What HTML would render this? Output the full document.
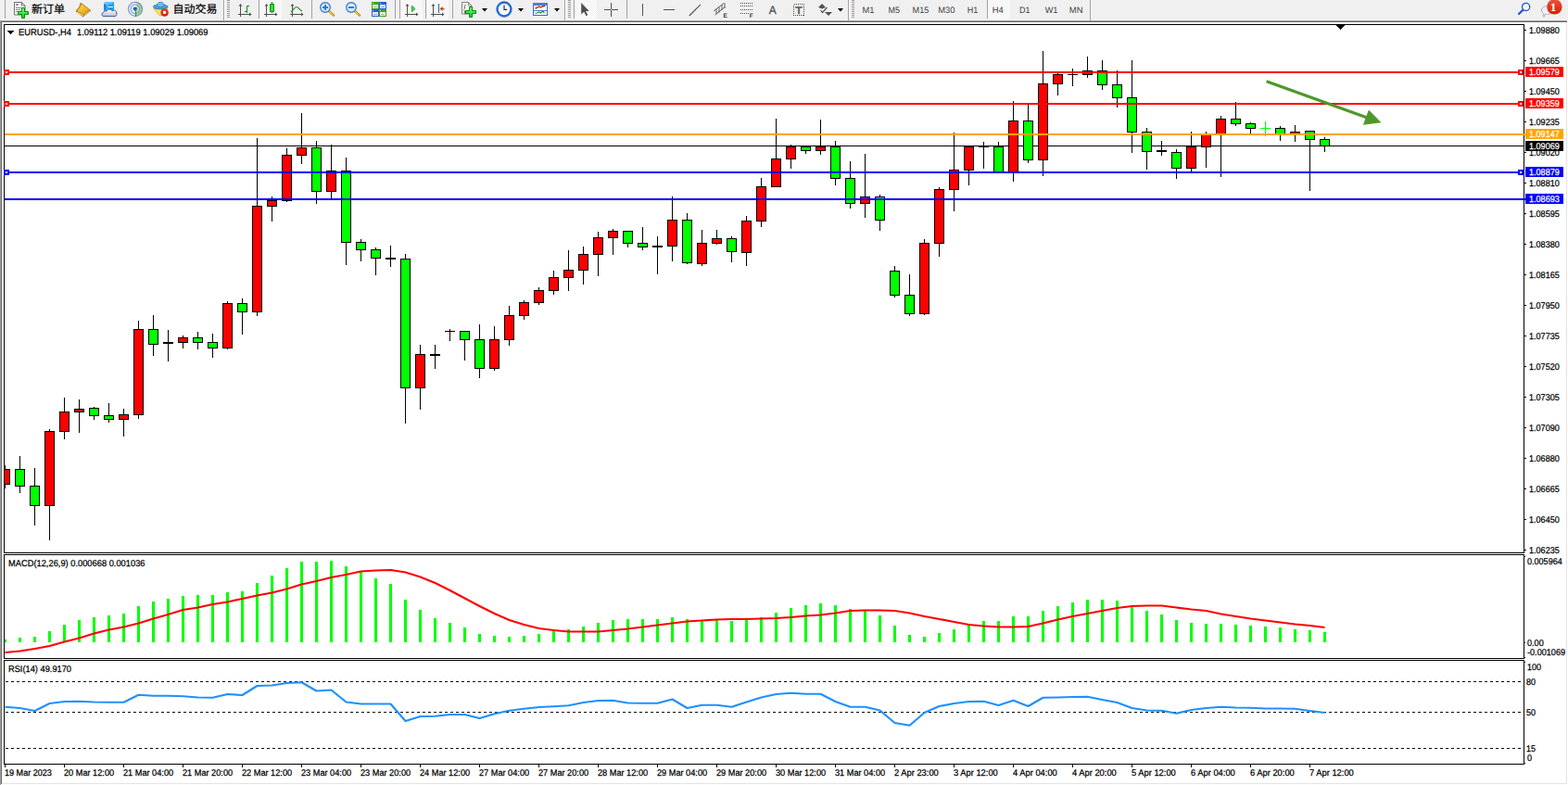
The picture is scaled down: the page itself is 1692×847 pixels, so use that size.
<!DOCTYPE html>
<html><head><meta charset="utf-8"><title>EURUSD H4</title>
<style>
html,body{margin:0;padding:0;background:#f0f0f0;overflow:hidden}
body{width:1692px;height:847px;font-family:"Liberation Sans",sans-serif}
svg{display:block;position:absolute;left:0;top:0}
svg text{font-family:"Liberation Sans",sans-serif;white-space:pre;text-rendering:geometricPrecision}
rect{shape-rendering:crispEdges}
</style></head><body>
<svg width="1692" height="847" viewBox="0 0 1692 847">
<rect x="0" y="0" width="1692" height="847" fill="#f0f0f0"/>
<rect x="0" y="21" width="1692" height="1" fill="#f6f6f6"/>
<rect x="0" y="22" width="1692" height="825" fill="#a0a0a0"/>
<rect x="1" y="23" width="1691" height="824" fill="#696969"/>
<rect x="2" y="24" width="1690" height="823" fill="#ffffff"/>
<rect x="1690" y="24" width="1" height="822" fill="#e3e3e3"/>
<rect x="2" y="845" width="1689" height="1" fill="#e3e3e3"/>
<rect x="1691" y="22" width="1" height="825" fill="#ffffff"/>
<rect x="0" y="846" width="1692" height="1" fill="#ffffff"/>
<rect x="0" y="22" width="1" height="825" fill="#a0a0a0"/>
<rect x="4" y="26" width="1641" height="1" fill="#000"/>
<rect x="4" y="596" width="1641" height="1" fill="#000"/>
<rect x="4" y="598" width="1641" height="1" fill="#000"/>
<rect x="4" y="710" width="1641" height="1" fill="#000"/>
<rect x="4" y="712" width="1641" height="1" fill="#000"/>
<rect x="4" y="824" width="1641" height="1" fill="#000"/>
<rect x="4" y="26" width="1" height="799" fill="#000"/>
<rect x="1644" y="26" width="1" height="799" fill="#000"/>
<rect x="4" y="597" width="1" height="1" fill="#fff"/>
<rect x="4" y="711" width="1" height="1" fill="#fff"/>
<rect x="1644" y="597" width="1" height="1" fill="#fff"/>
<rect x="1644" y="711" width="1" height="1" fill="#fff"/>
<clipPath id="cm"><rect x="5" y="27" width="1639" height="569"/></clipPath>
<g clip-path="url(#cm)">
<rect x="5" y="157" width="1639" height="1" fill="#000"/>
<rect x="5" y="502" width="1" height="25" fill="#000"/>
<rect x="0" y="506" width="11" height="17" fill="#000"/>
<rect x="1" y="507" width="9" height="15" fill="#ff0000"/>
<rect x="21" y="492" width="1" height="40" fill="#000"/>
<rect x="16" y="506" width="11" height="19" fill="#000"/>
<rect x="17" y="507" width="9" height="17" fill="#00ff00"/>
<rect x="37" y="505" width="1" height="62" fill="#000"/>
<rect x="32" y="524" width="11" height="22" fill="#000"/>
<rect x="33" y="525" width="9" height="20" fill="#00ff00"/>
<rect x="53" y="463" width="1" height="120" fill="#000"/>
<rect x="48" y="465" width="11" height="81" fill="#000"/>
<rect x="49" y="466" width="9" height="79" fill="#ff0000"/>
<rect x="69" y="429" width="1" height="45" fill="#000"/>
<rect x="64" y="444" width="11" height="22" fill="#000"/>
<rect x="65" y="445" width="9" height="20" fill="#ff0000"/>
<rect x="85" y="431" width="1" height="36" fill="#000"/>
<rect x="80" y="441" width="11" height="4" fill="#000"/>
<rect x="81" y="442" width="9" height="2" fill="#ff0000"/>
<rect x="101" y="439" width="1" height="14" fill="#000"/>
<rect x="96" y="440" width="11" height="9" fill="#000"/>
<rect x="97" y="441" width="9" height="7" fill="#00ff00"/>
<rect x="117" y="435" width="1" height="21" fill="#000"/>
<rect x="112" y="448" width="11" height="5" fill="#000"/>
<rect x="113" y="449" width="9" height="3" fill="#00ff00"/>
<rect x="133" y="441" width="1" height="30" fill="#000"/>
<rect x="128" y="447" width="11" height="6" fill="#000"/>
<rect x="129" y="448" width="9" height="4" fill="#ff0000"/>
<rect x="149" y="346" width="1" height="106" fill="#000"/>
<rect x="144" y="355" width="11" height="93" fill="#000"/>
<rect x="145" y="356" width="9" height="91" fill="#ff0000"/>
<rect x="165" y="340" width="1" height="44" fill="#000"/>
<rect x="160" y="355" width="11" height="17" fill="#000"/>
<rect x="161" y="356" width="9" height="15" fill="#00ff00"/>
<rect x="181" y="356" width="1" height="34" fill="#000"/>
<rect x="176" y="369" width="11" height="2" fill="#000"/>
<rect x="197" y="362" width="1" height="14" fill="#000"/>
<rect x="192" y="364" width="11" height="6" fill="#000"/>
<rect x="193" y="365" width="9" height="4" fill="#ff0000"/>
<rect x="213" y="358" width="1" height="19" fill="#000"/>
<rect x="208" y="364" width="11" height="6" fill="#000"/>
<rect x="209" y="365" width="9" height="4" fill="#00ff00"/>
<rect x="229" y="360" width="1" height="26" fill="#000"/>
<rect x="224" y="369" width="11" height="7" fill="#000"/>
<rect x="225" y="370" width="9" height="5" fill="#00ff00"/>
<rect x="245" y="325" width="1" height="52" fill="#000"/>
<rect x="240" y="327" width="11" height="49" fill="#000"/>
<rect x="241" y="328" width="9" height="47" fill="#ff0000"/>
<rect x="261" y="322" width="1" height="39" fill="#000"/>
<rect x="256" y="327" width="11" height="10" fill="#000"/>
<rect x="257" y="328" width="9" height="8" fill="#00ff00"/>
<rect x="277" y="149" width="1" height="192" fill="#000"/>
<rect x="272" y="222" width="11" height="115" fill="#000"/>
<rect x="273" y="223" width="9" height="113" fill="#ff0000"/>
<rect x="293" y="212" width="1" height="27" fill="#000"/>
<rect x="288" y="216" width="11" height="7" fill="#000"/>
<rect x="289" y="217" width="9" height="5" fill="#ff0000"/>
<rect x="309" y="160" width="1" height="58" fill="#000"/>
<rect x="304" y="167" width="11" height="50" fill="#000"/>
<rect x="305" y="168" width="9" height="48" fill="#ff0000"/>
<rect x="325" y="122" width="1" height="55" fill="#000"/>
<rect x="320" y="159" width="11" height="9" fill="#000"/>
<rect x="321" y="160" width="9" height="7" fill="#ff0000"/>
<rect x="341" y="152" width="1" height="68" fill="#000"/>
<rect x="336" y="159" width="11" height="48" fill="#000"/>
<rect x="337" y="160" width="9" height="46" fill="#00ff00"/>
<rect x="357" y="156" width="1" height="58" fill="#000"/>
<rect x="352" y="184" width="11" height="23" fill="#000"/>
<rect x="353" y="185" width="9" height="21" fill="#ff0000"/>
<rect x="373" y="170" width="1" height="116" fill="#000"/>
<rect x="368" y="184" width="11" height="78" fill="#000"/>
<rect x="369" y="185" width="9" height="76" fill="#00ff00"/>
<rect x="389" y="258" width="1" height="24" fill="#000"/>
<rect x="384" y="261" width="11" height="9" fill="#000"/>
<rect x="385" y="262" width="9" height="7" fill="#00ff00"/>
<rect x="405" y="267" width="1" height="30" fill="#000"/>
<rect x="400" y="269" width="11" height="10" fill="#000"/>
<rect x="401" y="270" width="9" height="8" fill="#00ff00"/>
<rect x="421" y="265" width="1" height="23" fill="#000"/>
<rect x="416" y="278" width="11" height="2" fill="#000"/>
<rect x="437" y="274" width="1" height="183" fill="#000"/>
<rect x="432" y="279" width="11" height="140" fill="#000"/>
<rect x="433" y="280" width="9" height="138" fill="#00ff00"/>
<rect x="453" y="372" width="1" height="70" fill="#000"/>
<rect x="448" y="382" width="11" height="37" fill="#000"/>
<rect x="449" y="383" width="9" height="35" fill="#ff0000"/>
<rect x="469" y="372" width="1" height="26" fill="#000"/>
<rect x="464" y="382" width="11" height="2" fill="#000"/>
<rect x="485" y="355" width="1" height="13" fill="#000"/>
<rect x="480" y="357" width="11" height="1" fill="#000"/>
<rect x="501" y="357" width="1" height="32" fill="#000"/>
<rect x="496" y="357" width="11" height="10" fill="#000"/>
<rect x="497" y="358" width="9" height="8" fill="#00ff00"/>
<rect x="517" y="350" width="1" height="58" fill="#000"/>
<rect x="512" y="366" width="11" height="32" fill="#000"/>
<rect x="513" y="367" width="9" height="30" fill="#00ff00"/>
<rect x="533" y="352" width="1" height="48" fill="#000"/>
<rect x="528" y="366" width="11" height="32" fill="#000"/>
<rect x="529" y="367" width="9" height="30" fill="#ff0000"/>
<rect x="549" y="330" width="1" height="43" fill="#000"/>
<rect x="544" y="340" width="11" height="27" fill="#000"/>
<rect x="545" y="341" width="9" height="25" fill="#ff0000"/>
<rect x="565" y="324" width="1" height="21" fill="#000"/>
<rect x="560" y="326" width="11" height="15" fill="#000"/>
<rect x="561" y="327" width="9" height="13" fill="#ff0000"/>
<rect x="581" y="310" width="1" height="19" fill="#000"/>
<rect x="576" y="313" width="11" height="14" fill="#000"/>
<rect x="577" y="314" width="9" height="12" fill="#ff0000"/>
<rect x="597" y="292" width="1" height="26" fill="#000"/>
<rect x="592" y="299" width="11" height="15" fill="#000"/>
<rect x="593" y="300" width="9" height="13" fill="#ff0000"/>
<rect x="613" y="270" width="1" height="44" fill="#000"/>
<rect x="608" y="291" width="11" height="9" fill="#000"/>
<rect x="609" y="292" width="9" height="7" fill="#ff0000"/>
<rect x="629" y="266" width="1" height="41" fill="#000"/>
<rect x="624" y="274" width="11" height="18" fill="#000"/>
<rect x="625" y="275" width="9" height="16" fill="#ff0000"/>
<rect x="645" y="250" width="1" height="48" fill="#000"/>
<rect x="640" y="256" width="11" height="19" fill="#000"/>
<rect x="641" y="257" width="9" height="17" fill="#ff0000"/>
<rect x="661" y="247" width="1" height="28" fill="#000"/>
<rect x="656" y="249" width="11" height="8" fill="#000"/>
<rect x="657" y="250" width="9" height="6" fill="#ff0000"/>
<rect x="677" y="249" width="1" height="18" fill="#000"/>
<rect x="672" y="249" width="11" height="14" fill="#000"/>
<rect x="673" y="250" width="9" height="12" fill="#00ff00"/>
<rect x="693" y="245" width="1" height="25" fill="#000"/>
<rect x="688" y="262" width="11" height="5" fill="#000"/>
<rect x="689" y="263" width="9" height="3" fill="#00ff00"/>
<rect x="709" y="255" width="1" height="41" fill="#000"/>
<rect x="704" y="265" width="11" height="2" fill="#000"/>
<rect x="725" y="212" width="1" height="70" fill="#000"/>
<rect x="720" y="237" width="11" height="29" fill="#000"/>
<rect x="721" y="238" width="9" height="27" fill="#ff0000"/>
<rect x="741" y="230" width="1" height="55" fill="#000"/>
<rect x="736" y="237" width="11" height="47" fill="#000"/>
<rect x="737" y="238" width="9" height="45" fill="#00ff00"/>
<rect x="757" y="248" width="1" height="39" fill="#000"/>
<rect x="752" y="262" width="11" height="23" fill="#000"/>
<rect x="753" y="263" width="9" height="21" fill="#ff0000"/>
<rect x="773" y="248" width="1" height="16" fill="#000"/>
<rect x="768" y="257" width="11" height="6" fill="#000"/>
<rect x="769" y="258" width="9" height="4" fill="#ff0000"/>
<rect x="789" y="255" width="1" height="28" fill="#000"/>
<rect x="784" y="257" width="11" height="15" fill="#000"/>
<rect x="785" y="258" width="9" height="13" fill="#00ff00"/>
<rect x="805" y="233" width="1" height="54" fill="#000"/>
<rect x="800" y="238" width="11" height="35" fill="#000"/>
<rect x="801" y="239" width="9" height="33" fill="#ff0000"/>
<rect x="821" y="192" width="1" height="53" fill="#000"/>
<rect x="816" y="201" width="11" height="38" fill="#000"/>
<rect x="817" y="202" width="9" height="36" fill="#ff0000"/>
<rect x="837" y="128" width="1" height="74" fill="#000"/>
<rect x="832" y="171" width="11" height="31" fill="#000"/>
<rect x="833" y="172" width="9" height="29" fill="#ff0000"/>
<rect x="853" y="156" width="1" height="26" fill="#000"/>
<rect x="848" y="158" width="11" height="14" fill="#000"/>
<rect x="849" y="159" width="9" height="12" fill="#ff0000"/>
<rect x="869" y="158" width="1" height="8" fill="#000"/>
<rect x="864" y="158" width="11" height="5" fill="#000"/>
<rect x="865" y="159" width="9" height="3" fill="#00ff00"/>
<rect x="885" y="129" width="1" height="38" fill="#000"/>
<rect x="880" y="158" width="11" height="5" fill="#000"/>
<rect x="881" y="159" width="9" height="3" fill="#ff0000"/>
<rect x="901" y="152" width="1" height="48" fill="#000"/>
<rect x="896" y="158" width="11" height="35" fill="#000"/>
<rect x="897" y="159" width="9" height="33" fill="#00ff00"/>
<rect x="917" y="174" width="1" height="51" fill="#000"/>
<rect x="912" y="192" width="11" height="28" fill="#000"/>
<rect x="913" y="193" width="9" height="26" fill="#00ff00"/>
<rect x="933" y="166" width="1" height="69" fill="#000"/>
<rect x="928" y="212" width="11" height="8" fill="#000"/>
<rect x="929" y="213" width="9" height="6" fill="#ff0000"/>
<rect x="949" y="210" width="1" height="39" fill="#000"/>
<rect x="944" y="212" width="11" height="26" fill="#000"/>
<rect x="945" y="213" width="9" height="24" fill="#00ff00"/>
<rect x="965" y="287" width="1" height="34" fill="#000"/>
<rect x="960" y="292" width="11" height="27" fill="#000"/>
<rect x="961" y="293" width="9" height="25" fill="#00ff00"/>
<rect x="981" y="296" width="1" height="45" fill="#000"/>
<rect x="976" y="318" width="11" height="21" fill="#000"/>
<rect x="977" y="319" width="9" height="19" fill="#00ff00"/>
<rect x="997" y="258" width="1" height="82" fill="#000"/>
<rect x="992" y="262" width="11" height="77" fill="#000"/>
<rect x="993" y="263" width="9" height="75" fill="#ff0000"/>
<rect x="1013" y="202" width="1" height="75" fill="#000"/>
<rect x="1008" y="204" width="11" height="59" fill="#000"/>
<rect x="1009" y="205" width="9" height="57" fill="#ff0000"/>
<rect x="1029" y="143" width="1" height="85" fill="#000"/>
<rect x="1024" y="183" width="11" height="22" fill="#000"/>
<rect x="1025" y="184" width="9" height="20" fill="#ff0000"/>
<rect x="1045" y="157" width="1" height="43" fill="#000"/>
<rect x="1040" y="158" width="11" height="26" fill="#000"/>
<rect x="1041" y="159" width="9" height="24" fill="#ff0000"/>
<rect x="1061" y="153" width="1" height="29" fill="#000"/>
<rect x="1056" y="158" width="11" height="1" fill="#000"/>
<rect x="1077" y="153" width="1" height="34" fill="#000"/>
<rect x="1072" y="158" width="11" height="29" fill="#000"/>
<rect x="1073" y="159" width="9" height="27" fill="#00ff00"/>
<rect x="1093" y="109" width="1" height="87" fill="#000"/>
<rect x="1088" y="130" width="11" height="57" fill="#000"/>
<rect x="1089" y="131" width="9" height="55" fill="#ff0000"/>
<rect x="1109" y="113" width="1" height="63" fill="#000"/>
<rect x="1104" y="130" width="11" height="43" fill="#000"/>
<rect x="1105" y="131" width="9" height="41" fill="#00ff00"/>
<rect x="1125" y="55" width="1" height="135" fill="#000"/>
<rect x="1120" y="90" width="11" height="83" fill="#000"/>
<rect x="1121" y="91" width="9" height="81" fill="#ff0000"/>
<rect x="1141" y="78" width="1" height="25" fill="#000"/>
<rect x="1136" y="80" width="11" height="11" fill="#000"/>
<rect x="1137" y="81" width="9" height="9" fill="#ff0000"/>
<rect x="1157" y="74" width="1" height="19" fill="#000"/>
<rect x="1152" y="80" width="11" height="1" fill="#000"/>
<rect x="1173" y="61" width="1" height="23" fill="#000"/>
<rect x="1168" y="76" width="11" height="5" fill="#000"/>
<rect x="1169" y="77" width="9" height="3" fill="#ff0000"/>
<rect x="1189" y="65" width="1" height="32" fill="#000"/>
<rect x="1184" y="76" width="11" height="16" fill="#000"/>
<rect x="1185" y="77" width="9" height="14" fill="#00ff00"/>
<rect x="1205" y="76" width="1" height="40" fill="#000"/>
<rect x="1200" y="91" width="11" height="15" fill="#000"/>
<rect x="1201" y="92" width="9" height="13" fill="#00ff00"/>
<rect x="1221" y="65" width="1" height="100" fill="#000"/>
<rect x="1216" y="105" width="11" height="38" fill="#000"/>
<rect x="1217" y="106" width="9" height="36" fill="#00ff00"/>
<rect x="1237" y="138" width="1" height="45" fill="#000"/>
<rect x="1232" y="142" width="11" height="22" fill="#000"/>
<rect x="1233" y="143" width="9" height="20" fill="#00ff00"/>
<rect x="1253" y="152" width="1" height="16" fill="#000"/>
<rect x="1248" y="162" width="11" height="2" fill="#000"/>
<rect x="1269" y="161" width="1" height="32" fill="#000"/>
<rect x="1264" y="164" width="11" height="18" fill="#000"/>
<rect x="1265" y="165" width="9" height="16" fill="#00ff00"/>
<rect x="1285" y="142" width="1" height="43" fill="#000"/>
<rect x="1280" y="158" width="11" height="24" fill="#000"/>
<rect x="1281" y="159" width="9" height="22" fill="#ff0000"/>
<rect x="1301" y="142" width="1" height="39" fill="#000"/>
<rect x="1296" y="145" width="11" height="14" fill="#000"/>
<rect x="1297" y="146" width="9" height="12" fill="#ff0000"/>
<rect x="1317" y="125" width="1" height="66" fill="#000"/>
<rect x="1312" y="128" width="11" height="17" fill="#000"/>
<rect x="1313" y="129" width="9" height="15" fill="#ff0000"/>
<rect x="1333" y="110" width="1" height="26" fill="#000"/>
<rect x="1328" y="128" width="11" height="6" fill="#000"/>
<rect x="1329" y="129" width="9" height="4" fill="#00ff00"/>
<rect x="1349" y="132" width="1" height="12" fill="#000"/>
<rect x="1344" y="133" width="11" height="6" fill="#000"/>
<rect x="1345" y="134" width="9" height="4" fill="#00ff00"/>
<rect x="1365" y="131" width="1" height="16" fill="#00ff00"/>
<rect x="1360" y="138" width="11" height="1" fill="#00ff00"/>
<rect x="1381" y="136" width="1" height="16" fill="#000"/>
<rect x="1376" y="138" width="11" height="7" fill="#000"/>
<rect x="1377" y="139" width="9" height="5" fill="#00ff00"/>
<rect x="1397" y="135" width="1" height="18" fill="#000"/>
<rect x="1392" y="142" width="11" height="3" fill="#000"/>
<rect x="1393" y="143" width="9" height="1" fill="#ff0000"/>
<rect x="1413" y="141" width="1" height="65" fill="#000"/>
<rect x="1408" y="141" width="11" height="10" fill="#000"/>
<rect x="1409" y="142" width="9" height="8" fill="#00ff00"/>
<rect x="1429" y="148" width="1" height="16" fill="#000"/>
<rect x="1424" y="150" width="11" height="8" fill="#000"/>
<rect x="1425" y="151" width="9" height="6" fill="#00ff00"/>
</g>
<rect x="5" y="77" width="1639" height="2" fill="#ff0000"/>
<rect x="4" y="75" width="6" height="6" fill="#ff0000"/>
<rect x="6" y="77" width="2" height="2" fill="#fff"/>
<rect x="1638" y="75" width="6" height="6" fill="#ff0000"/>
<rect x="1640" y="77" width="2" height="2" fill="#fff"/>
<rect x="5" y="111" width="1639" height="2" fill="#ff0000"/>
<rect x="4" y="109" width="6" height="6" fill="#ff0000"/>
<rect x="6" y="111" width="2" height="2" fill="#fff"/>
<rect x="1638" y="109" width="6" height="6" fill="#ff0000"/>
<rect x="1640" y="111" width="2" height="2" fill="#fff"/>
<rect x="5" y="144" width="1642" height="2" fill="#ffa500"/>
<rect x="5" y="185" width="1639" height="2" fill="#0000ff"/>
<rect x="4" y="183" width="6" height="6" fill="#0000ff"/>
<rect x="6" y="185" width="2" height="2" fill="#fff"/>
<rect x="1638" y="183" width="6" height="6" fill="#0000ff"/>
<rect x="1640" y="185" width="2" height="2" fill="#fff"/>
<rect x="5" y="214" width="1642" height="2" fill="#0000ff"/>
<line x1="1366.6" y1="87.7" x2="1476" y2="127.3" stroke="#4e982a" stroke-width="3.3"/>
<polygon points="1490.5,132.2 1470.9,134.7 1476.9,118.6" fill="#4e982a"/>
<rect x="1442" y="27" width="9" height="1" fill="#000"/>
<rect x="1443" y="28" width="7" height="1" fill="#000"/>
<rect x="1444" y="29" width="5" height="1" fill="#000"/>
<rect x="1445" y="30" width="3" height="1" fill="#000"/>
<rect x="1446" y="31" width="1" height="1" fill="#000"/>
<rect x="1645" y="32" width="2" height="1" fill="#000"/>
<text x="1650" y="36" font-size="9.8" fill="#000" stroke="#000" stroke-width="0.25" textLength="32.75" lengthAdjust="spacingAndGlyphs">1.09880</text>
<rect x="1645" y="65" width="2" height="1" fill="#000"/>
<text x="1650" y="69" font-size="9.8" fill="#000" stroke="#000" stroke-width="0.25" textLength="32.75" lengthAdjust="spacingAndGlyphs">1.09665</text>
<rect x="1645" y="98" width="2" height="1" fill="#000"/>
<text x="1650" y="102" font-size="9.8" fill="#000" stroke="#000" stroke-width="0.25" textLength="32.75" lengthAdjust="spacingAndGlyphs">1.09450</text>
<rect x="1645" y="131" width="2" height="1" fill="#000"/>
<text x="1650" y="135" font-size="9.8" fill="#000" stroke="#000" stroke-width="0.25" textLength="32.75" lengthAdjust="spacingAndGlyphs">1.09235</text>
<rect x="1645" y="164" width="2" height="1" fill="#000"/>
<text x="1650" y="168" font-size="9.8" fill="#000" stroke="#000" stroke-width="0.25" textLength="32.75" lengthAdjust="spacingAndGlyphs">1.09020</text>
<rect x="1645" y="197" width="2" height="1" fill="#000"/>
<text x="1650" y="201" font-size="9.8" fill="#000" stroke="#000" stroke-width="0.25" textLength="32.75" lengthAdjust="spacingAndGlyphs">1.08810</text>
<rect x="1645" y="230" width="2" height="1" fill="#000"/>
<text x="1650" y="234" font-size="9.8" fill="#000" stroke="#000" stroke-width="0.25" textLength="32.75" lengthAdjust="spacingAndGlyphs">1.08595</text>
<rect x="1645" y="263" width="2" height="1" fill="#000"/>
<text x="1650" y="267" font-size="9.8" fill="#000" stroke="#000" stroke-width="0.25" textLength="32.75" lengthAdjust="spacingAndGlyphs">1.08380</text>
<rect x="1645" y="296" width="2" height="1" fill="#000"/>
<text x="1650" y="300" font-size="9.8" fill="#000" stroke="#000" stroke-width="0.25" textLength="32.75" lengthAdjust="spacingAndGlyphs">1.08165</text>
<rect x="1645" y="329" width="2" height="1" fill="#000"/>
<text x="1650" y="333" font-size="9.8" fill="#000" stroke="#000" stroke-width="0.25" textLength="32.75" lengthAdjust="spacingAndGlyphs">1.07950</text>
<rect x="1645" y="362" width="2" height="1" fill="#000"/>
<text x="1650" y="366" font-size="9.8" fill="#000" stroke="#000" stroke-width="0.25" textLength="32.75" lengthAdjust="spacingAndGlyphs">1.07735</text>
<rect x="1645" y="395" width="2" height="1" fill="#000"/>
<text x="1650" y="399" font-size="9.8" fill="#000" stroke="#000" stroke-width="0.25" textLength="32.75" lengthAdjust="spacingAndGlyphs">1.07520</text>
<rect x="1645" y="428" width="2" height="1" fill="#000"/>
<text x="1650" y="432" font-size="9.8" fill="#000" stroke="#000" stroke-width="0.25" textLength="32.75" lengthAdjust="spacingAndGlyphs">1.07305</text>
<rect x="1645" y="461" width="2" height="1" fill="#000"/>
<text x="1650" y="465" font-size="9.8" fill="#000" stroke="#000" stroke-width="0.25" textLength="32.75" lengthAdjust="spacingAndGlyphs">1.07090</text>
<rect x="1645" y="494" width="2" height="1" fill="#000"/>
<text x="1650" y="498" font-size="9.8" fill="#000" stroke="#000" stroke-width="0.25" textLength="32.75" lengthAdjust="spacingAndGlyphs">1.06880</text>
<rect x="1645" y="527" width="2" height="1" fill="#000"/>
<text x="1650" y="531" font-size="9.8" fill="#000" stroke="#000" stroke-width="0.25" textLength="32.75" lengthAdjust="spacingAndGlyphs">1.06665</text>
<rect x="1645" y="560" width="2" height="1" fill="#000"/>
<text x="1650" y="564" font-size="9.8" fill="#000" stroke="#000" stroke-width="0.25" textLength="32.75" lengthAdjust="spacingAndGlyphs">1.06450</text>
<rect x="1645" y="593" width="2" height="1" fill="#000"/>
<text x="1650" y="597" font-size="9.8" fill="#000" stroke="#000" stroke-width="0.25" textLength="32.75" lengthAdjust="spacingAndGlyphs">1.06235</text>
<rect x="1646" y="72" width="41" height="11" fill="#ff0000"/>
<text x="1650" y="81" font-size="9.8" fill="#fff" stroke="#fff" stroke-width="0.25" textLength="32.75" lengthAdjust="spacingAndGlyphs">1.09579</text>
<rect x="1646" y="106" width="41" height="11" fill="#ff0000"/>
<text x="1650" y="115" font-size="9.8" fill="#fff" stroke="#fff" stroke-width="0.25" textLength="32.75" lengthAdjust="spacingAndGlyphs">1.09359</text>
<rect x="1646" y="139" width="41" height="11" fill="#ffa500"/>
<text x="1650" y="148" font-size="9.8" fill="#fff" stroke="#fff" stroke-width="0.25" textLength="32.75" lengthAdjust="spacingAndGlyphs">1.09147</text>
<rect x="1646" y="152" width="41" height="11" fill="#000000"/>
<text x="1650" y="161" font-size="9.8" fill="#fff" stroke="#fff" stroke-width="0.25" textLength="32.75" lengthAdjust="spacingAndGlyphs">1.09069</text>
<rect x="1646" y="180" width="41" height="11" fill="#0000ff"/>
<text x="1650" y="189" font-size="9.8" fill="#fff" stroke="#fff" stroke-width="0.25" textLength="32.75" lengthAdjust="spacingAndGlyphs">1.08879</text>
<rect x="1646" y="209" width="41" height="11" fill="#0000ff"/>
<text x="1650" y="218" font-size="9.8" fill="#fff" stroke="#fff" stroke-width="0.25" textLength="32.75" lengthAdjust="spacingAndGlyphs">1.08693</text>
<rect x="8" y="33" width="7" height="1" fill="#000"/>
<rect x="9" y="34" width="5" height="1" fill="#000"/>
<rect x="10" y="35" width="3" height="1" fill="#000"/>
<rect x="11" y="36" width="1" height="1" fill="#000"/>
<text x="20" y="38" font-size="9.8" fill="#000" stroke="#000" stroke-width="0.25" textLength="57" lengthAdjust="spacingAndGlyphs">EURUSD-,H4</text>
<text x="83" y="38" font-size="9.8" fill="#000" stroke="#000" stroke-width="0.25" textLength="141.5" lengthAdjust="spacingAndGlyphs">1.09112 1.09119 1.09029 1.09069</text>
<rect x="5" y="690" width="2" height="3" fill="#00ff00"/>
<rect x="20" y="688" width="3" height="5" fill="#00ff00"/>
<rect x="36" y="687" width="3" height="6" fill="#00ff00"/>
<rect x="52" y="681" width="3" height="12" fill="#00ff00"/>
<rect x="68" y="674" width="3" height="19" fill="#00ff00"/>
<rect x="84" y="669" width="3" height="24" fill="#00ff00"/>
<rect x="100" y="666" width="3" height="27" fill="#00ff00"/>
<rect x="116" y="664" width="3" height="29" fill="#00ff00"/>
<rect x="132" y="662" width="3" height="31" fill="#00ff00"/>
<rect x="148" y="654" width="3" height="39" fill="#00ff00"/>
<rect x="164" y="649" width="3" height="44" fill="#00ff00"/>
<rect x="180" y="646" width="3" height="47" fill="#00ff00"/>
<rect x="196" y="643" width="3" height="50" fill="#00ff00"/>
<rect x="212" y="642" width="3" height="51" fill="#00ff00"/>
<rect x="228" y="642" width="3" height="51" fill="#00ff00"/>
<rect x="244" y="639" width="3" height="54" fill="#00ff00"/>
<rect x="260" y="638" width="3" height="55" fill="#00ff00"/>
<rect x="276" y="629" width="3" height="64" fill="#00ff00"/>
<rect x="292" y="621" width="3" height="72" fill="#00ff00"/>
<rect x="308" y="613" width="3" height="80" fill="#00ff00"/>
<rect x="324" y="606" width="3" height="87" fill="#00ff00"/>
<rect x="340" y="606" width="3" height="87" fill="#00ff00"/>
<rect x="356" y="605" width="3" height="88" fill="#00ff00"/>
<rect x="372" y="611" width="3" height="82" fill="#00ff00"/>
<rect x="388" y="617" width="3" height="76" fill="#00ff00"/>
<rect x="404" y="624" width="3" height="69" fill="#00ff00"/>
<rect x="420" y="630" width="3" height="63" fill="#00ff00"/>
<rect x="436" y="647" width="3" height="46" fill="#00ff00"/>
<rect x="452" y="658" width="3" height="35" fill="#00ff00"/>
<rect x="468" y="667" width="3" height="26" fill="#00ff00"/>
<rect x="484" y="672" width="3" height="21" fill="#00ff00"/>
<rect x="500" y="677" width="3" height="16" fill="#00ff00"/>
<rect x="516" y="684" width="3" height="9" fill="#00ff00"/>
<rect x="532" y="686" width="3" height="7" fill="#00ff00"/>
<rect x="548" y="687" width="3" height="6" fill="#00ff00"/>
<rect x="564" y="686" width="3" height="7" fill="#00ff00"/>
<rect x="580" y="684" width="3" height="9" fill="#00ff00"/>
<rect x="596" y="681" width="3" height="12" fill="#00ff00"/>
<rect x="612" y="679" width="3" height="14" fill="#00ff00"/>
<rect x="628" y="676" width="3" height="17" fill="#00ff00"/>
<rect x="644" y="672" width="3" height="21" fill="#00ff00"/>
<rect x="660" y="669" width="3" height="24" fill="#00ff00"/>
<rect x="676" y="668" width="3" height="25" fill="#00ff00"/>
<rect x="692" y="668" width="3" height="25" fill="#00ff00"/>
<rect x="708" y="668" width="3" height="25" fill="#00ff00"/>
<rect x="724" y="666" width="3" height="27" fill="#00ff00"/>
<rect x="740" y="668" width="3" height="25" fill="#00ff00"/>
<rect x="756" y="669" width="3" height="24" fill="#00ff00"/>
<rect x="772" y="669" width="3" height="24" fill="#00ff00"/>
<rect x="788" y="670" width="3" height="23" fill="#00ff00"/>
<rect x="804" y="669" width="3" height="24" fill="#00ff00"/>
<rect x="820" y="666" width="3" height="27" fill="#00ff00"/>
<rect x="836" y="661" width="3" height="32" fill="#00ff00"/>
<rect x="852" y="656" width="3" height="37" fill="#00ff00"/>
<rect x="868" y="653" width="3" height="40" fill="#00ff00"/>
<rect x="884" y="651" width="3" height="42" fill="#00ff00"/>
<rect x="900" y="653" width="3" height="40" fill="#00ff00"/>
<rect x="916" y="657" width="3" height="36" fill="#00ff00"/>
<rect x="932" y="659" width="3" height="34" fill="#00ff00"/>
<rect x="948" y="664" width="3" height="29" fill="#00ff00"/>
<rect x="964" y="675" width="3" height="18" fill="#00ff00"/>
<rect x="980" y="685" width="3" height="8" fill="#00ff00"/>
<rect x="996" y="687" width="3" height="6" fill="#00ff00"/>
<rect x="1012" y="683" width="3" height="10" fill="#00ff00"/>
<rect x="1028" y="679" width="3" height="14" fill="#00ff00"/>
<rect x="1044" y="674" width="3" height="19" fill="#00ff00"/>
<rect x="1060" y="670" width="3" height="23" fill="#00ff00"/>
<rect x="1076" y="670" width="3" height="23" fill="#00ff00"/>
<rect x="1092" y="665" width="3" height="28" fill="#00ff00"/>
<rect x="1108" y="665" width="3" height="28" fill="#00ff00"/>
<rect x="1124" y="659" width="3" height="34" fill="#00ff00"/>
<rect x="1140" y="654" width="3" height="39" fill="#00ff00"/>
<rect x="1156" y="650" width="3" height="43" fill="#00ff00"/>
<rect x="1172" y="647" width="3" height="46" fill="#00ff00"/>
<rect x="1188" y="647" width="3" height="46" fill="#00ff00"/>
<rect x="1204" y="648" width="3" height="45" fill="#00ff00"/>
<rect x="1220" y="653" width="3" height="40" fill="#00ff00"/>
<rect x="1236" y="659" width="3" height="34" fill="#00ff00"/>
<rect x="1252" y="663" width="3" height="30" fill="#00ff00"/>
<rect x="1268" y="669" width="3" height="24" fill="#00ff00"/>
<rect x="1284" y="672" width="3" height="21" fill="#00ff00"/>
<rect x="1300" y="673" width="3" height="20" fill="#00ff00"/>
<rect x="1316" y="673" width="3" height="20" fill="#00ff00"/>
<rect x="1332" y="674" width="3" height="19" fill="#00ff00"/>
<rect x="1348" y="675" width="3" height="18" fill="#00ff00"/>
<rect x="1364" y="676" width="3" height="17" fill="#00ff00"/>
<rect x="1380" y="677" width="3" height="16" fill="#00ff00"/>
<rect x="1396" y="679" width="3" height="14" fill="#00ff00"/>
<rect x="1412" y="680" width="3" height="13" fill="#00ff00"/>
<rect x="1428" y="682" width="3" height="11" fill="#00ff00"/>
<polyline points="5.5,704 21.5,702.5 37.5,700 53.5,697 69.5,692.5 85.5,688.5 101.5,683.5 117.5,679.5 133.5,676.5 149.5,672.5 165.5,667.5 181.5,663 197.5,658 213.5,655.5 229.5,652 245.5,649.5 261.5,646 277.5,642.5 293.5,639.5 309.5,635.5 325.5,630.5 341.5,627 357.5,623 373.5,620 389.5,616.5 405.5,615.5 421.5,615 437.5,617.5 453.5,622.5 469.5,629 485.5,637 501.5,645.5 517.5,654 533.5,662 549.5,669 565.5,674 581.5,678 597.5,680 613.5,681.5 629.5,681.5 645.5,681.5 661.5,680 677.5,678.5 693.5,676.5 709.5,674.5 725.5,672.5 741.5,670.5 757.5,669.5 773.5,668.5 789.5,668 805.5,668 821.5,667.5 837.5,667 853.5,666 869.5,664.5 885.5,663.5 901.5,661.5 917.5,659 933.5,658.5 949.5,658.5 965.5,659 981.5,661.5 997.5,665 1013.5,668 1029.5,671 1045.5,674 1061.5,675.5 1077.5,676.5 1093.5,676.5 1109.5,676 1125.5,672.5 1141.5,668.5 1157.5,665 1173.5,662 1189.5,659 1205.5,656 1221.5,654 1237.5,653.5 1253.5,653.5 1269.5,655.5 1285.5,657.5 1301.5,659 1317.5,662.5 1333.5,665 1349.5,667.5 1365.5,669.5 1381.5,671.5 1397.5,673.5 1413.5,675 1429.5,677" fill="none" stroke="#ff0000" stroke-width="2.2" stroke-linejoin="round"/>
<text x="9" y="611" font-size="9.8" fill="#000" stroke="#000" stroke-width="0.25" textLength="147.5" lengthAdjust="spacingAndGlyphs">MACD(12,26,9) 0.000668 0.001036</text>
<text x="1648" y="609" font-size="9.8" fill="#000" stroke="#000" stroke-width="0.25" textLength="37.74" lengthAdjust="spacingAndGlyphs">0.005964</text>
<rect x="1645" y="600" width="1" height="1" fill="#000"/>
<rect x="1645" y="693" width="1" height="1" fill="#000"/>
<rect x="1645" y="709" width="1" height="1" fill="#000"/>
<text x="1648" y="697" font-size="9.8" fill="#000" stroke="#000" stroke-width="0.25" textLength="17.76" lengthAdjust="spacingAndGlyphs">0.00</text>
<text x="1648" y="707" font-size="9.8" fill="#000" stroke="#000" stroke-width="0.25" textLength="41.07" lengthAdjust="spacingAndGlyphs">-0.001069</text>
<path d="M6 735.5H1644" stroke="#000" stroke-width="1" stroke-dasharray="3 3" shape-rendering="crispEdges"/>
<path d="M6 768.5H1644" stroke="#000" stroke-width="1" stroke-dasharray="3 3" shape-rendering="crispEdges"/>
<path d="M6 807.5H1644" stroke="#000" stroke-width="1" stroke-dasharray="3 3" shape-rendering="crispEdges"/>
<polyline points="5.5,762.75 21.5,764 37.5,767 53.5,759 69.5,757 85.5,756.75 101.5,757.5 117.5,757.75 133.5,757.75 149.5,749.75 165.5,750.75 181.5,750.75 197.5,751.25 213.5,752.5 229.5,752.75 245.5,749 261.5,750 277.5,740 293.5,739.5 309.5,737 325.5,736.25 341.5,745.5 357.5,744.5 373.5,757.5 389.5,759.5 405.5,759.5 421.5,759.5 437.5,778 453.5,773 469.5,772.75 485.5,771 501.5,771 517.5,775 533.5,770.25 549.5,766.75 565.5,764.75 581.5,763 597.5,762.25 613.5,761.25 629.5,758 645.5,756 661.5,755.75 677.5,758.5 693.5,758.75 709.5,758.75 725.5,754.5 741.5,764 757.5,760.75 773.5,760.75 789.5,762.75 805.5,757.5 821.5,752.5 837.5,749 853.5,747.75 869.5,748.75 885.5,748.75 901.5,757 917.5,762.75 933.5,762.75 949.5,766.5 965.5,780 981.5,782.75 997.5,769 1013.5,762 1029.5,759 1045.5,757 1061.5,756.75 1077.5,761 1093.5,755.75 1109.5,762 1125.5,752.75 1141.5,752.5 1157.5,752 1173.5,751.75 1189.5,755 1205.5,758 1221.5,764 1237.5,766.5 1253.5,766.75 1269.5,769.75 1285.5,766 1301.5,764 1317.5,762.75 1333.5,763.5 1349.5,763.75 1365.5,764.5 1381.5,764.5 1397.5,764.75 1413.5,767 1429.5,769" fill="none" stroke="#1e90ff" stroke-width="2.2" stroke-linejoin="round"/>
<text x="9" y="725" font-size="9.8" fill="#000" stroke="#000" stroke-width="0.25" textLength="68" lengthAdjust="spacingAndGlyphs">RSI(14) 49.9170</text>
<text x="1648" y="723" font-size="9.8" fill="#000" stroke="#000" stroke-width="0.25" textLength="14.99" lengthAdjust="spacingAndGlyphs">100</text>
<text x="1647" y="739" font-size="9.8" fill="#000" stroke="#000" stroke-width="0.25" textLength="9.99" lengthAdjust="spacingAndGlyphs">80</text>
<text x="1647" y="772" font-size="9.8" fill="#000" stroke="#000" stroke-width="0.25" textLength="9.99" lengthAdjust="spacingAndGlyphs">50</text>
<text x="1647" y="811" font-size="9.8" fill="#000" stroke="#000" stroke-width="0.25" textLength="9.99" lengthAdjust="spacingAndGlyphs">15</text>
<text x="1648" y="821" font-size="9.8" fill="#000" stroke="#000" stroke-width="0.25" textLength="5.0" lengthAdjust="spacingAndGlyphs">0</text>
<rect x="1645" y="714" width="1" height="1" fill="#000"/>
<rect x="1645" y="823" width="1" height="1" fill="#000"/>
<rect x="5" y="825" width="1" height="3" fill="#000"/>
<text x="5" y="837" font-size="9.8" fill="#000" stroke="#000" stroke-width="0.25" textLength="50.86" lengthAdjust="spacingAndGlyphs">19 Mar 2023</text>
<rect x="69" y="825" width="1" height="3" fill="#000"/>
<text x="69" y="837" font-size="9.8" fill="#000" stroke="#000" stroke-width="0.25" textLength="54.09" lengthAdjust="spacingAndGlyphs">20 Mar 12:00</text>
<rect x="133" y="825" width="1" height="3" fill="#000"/>
<text x="133" y="837" font-size="9.8" fill="#000" stroke="#000" stroke-width="0.25" textLength="54.09" lengthAdjust="spacingAndGlyphs">21 Mar 04:00</text>
<rect x="197" y="825" width="1" height="3" fill="#000"/>
<text x="197" y="837" font-size="9.8" fill="#000" stroke="#000" stroke-width="0.25" textLength="54.09" lengthAdjust="spacingAndGlyphs">21 Mar 20:00</text>
<rect x="261" y="825" width="1" height="3" fill="#000"/>
<text x="261" y="837" font-size="9.8" fill="#000" stroke="#000" stroke-width="0.25" textLength="54.09" lengthAdjust="spacingAndGlyphs">22 Mar 12:00</text>
<rect x="325" y="825" width="1" height="3" fill="#000"/>
<text x="325" y="837" font-size="9.8" fill="#000" stroke="#000" stroke-width="0.25" textLength="54.09" lengthAdjust="spacingAndGlyphs">23 Mar 04:00</text>
<rect x="389" y="825" width="1" height="3" fill="#000"/>
<text x="389" y="837" font-size="9.8" fill="#000" stroke="#000" stroke-width="0.25" textLength="54.09" lengthAdjust="spacingAndGlyphs">23 Mar 20:00</text>
<rect x="453" y="825" width="1" height="3" fill="#000"/>
<text x="453" y="837" font-size="9.8" fill="#000" stroke="#000" stroke-width="0.25" textLength="54.09" lengthAdjust="spacingAndGlyphs">24 Mar 12:00</text>
<rect x="517" y="825" width="1" height="3" fill="#000"/>
<text x="517" y="837" font-size="9.8" fill="#000" stroke="#000" stroke-width="0.25" textLength="54.09" lengthAdjust="spacingAndGlyphs">27 Mar 04:00</text>
<rect x="581" y="825" width="1" height="3" fill="#000"/>
<text x="581" y="837" font-size="9.8" fill="#000" stroke="#000" stroke-width="0.25" textLength="54.09" lengthAdjust="spacingAndGlyphs">27 Mar 20:00</text>
<rect x="645" y="825" width="1" height="3" fill="#000"/>
<text x="645" y="837" font-size="9.8" fill="#000" stroke="#000" stroke-width="0.25" textLength="54.09" lengthAdjust="spacingAndGlyphs">28 Mar 12:00</text>
<rect x="709" y="825" width="1" height="3" fill="#000"/>
<text x="709" y="837" font-size="9.8" fill="#000" stroke="#000" stroke-width="0.25" textLength="54.09" lengthAdjust="spacingAndGlyphs">29 Mar 04:00</text>
<rect x="773" y="825" width="1" height="3" fill="#000"/>
<text x="773" y="837" font-size="9.8" fill="#000" stroke="#000" stroke-width="0.25" textLength="54.09" lengthAdjust="spacingAndGlyphs">29 Mar 20:00</text>
<rect x="837" y="825" width="1" height="3" fill="#000"/>
<text x="837" y="837" font-size="9.8" fill="#000" stroke="#000" stroke-width="0.25" textLength="54.09" lengthAdjust="spacingAndGlyphs">30 Mar 12:00</text>
<rect x="901" y="825" width="1" height="3" fill="#000"/>
<text x="901" y="837" font-size="9.8" fill="#000" stroke="#000" stroke-width="0.25" textLength="54.09" lengthAdjust="spacingAndGlyphs">31 Mar 04:00</text>
<rect x="965" y="825" width="1" height="3" fill="#000"/>
<text x="965" y="837" font-size="9.8" fill="#000" stroke="#000" stroke-width="0.25" textLength="47.79" lengthAdjust="spacingAndGlyphs">2 Apr 23:00</text>
<rect x="1029" y="825" width="1" height="3" fill="#000"/>
<text x="1029" y="837" font-size="9.8" fill="#000" stroke="#000" stroke-width="0.25" textLength="47.79" lengthAdjust="spacingAndGlyphs">3 Apr 12:00</text>
<rect x="1093" y="825" width="1" height="3" fill="#000"/>
<text x="1093" y="837" font-size="9.8" fill="#000" stroke="#000" stroke-width="0.25" textLength="47.79" lengthAdjust="spacingAndGlyphs">4 Apr 04:00</text>
<rect x="1157" y="825" width="1" height="3" fill="#000"/>
<text x="1157" y="837" font-size="9.8" fill="#000" stroke="#000" stroke-width="0.25" textLength="47.79" lengthAdjust="spacingAndGlyphs">4 Apr 20:00</text>
<rect x="1221" y="825" width="1" height="3" fill="#000"/>
<text x="1221" y="837" font-size="9.8" fill="#000" stroke="#000" stroke-width="0.25" textLength="47.79" lengthAdjust="spacingAndGlyphs">5 Apr 12:00</text>
<rect x="1285" y="825" width="1" height="3" fill="#000"/>
<text x="1285" y="837" font-size="9.8" fill="#000" stroke="#000" stroke-width="0.25" textLength="47.79" lengthAdjust="spacingAndGlyphs">6 Apr 04:00</text>
<rect x="1349" y="825" width="1" height="3" fill="#000"/>
<text x="1349" y="837" font-size="9.8" fill="#000" stroke="#000" stroke-width="0.25" textLength="47.79" lengthAdjust="spacingAndGlyphs">6 Apr 20:00</text>
<rect x="1413" y="825" width="1" height="3" fill="#000"/>
<text x="1413" y="837" font-size="9.8" fill="#000" stroke="#000" stroke-width="0.25" textLength="47.79" lengthAdjust="spacingAndGlyphs">7 Apr 12:00</text>
<defs><pattern id="chk" width="2" height="2" patternUnits="userSpaceOnUse"><rect width="2" height="2" fill="#f0f0f0"/><rect width="1" height="1" fill="#ffffff"/><rect x="1" y="1" width="1" height="1" fill="#ffffff"/></pattern><linearGradient id="gplus" x1="0" y1="0" x2="0" y2="1"><stop offset="0" stop-color="#7dfc8a"/><stop offset="1" stop-color="#00d415"/></linearGradient><linearGradient id="ggold" x1="0" y1="0" x2="1" y2="1"><stop offset="0" stop-color="#ffe24a"/><stop offset="1" stop-color="#d89a10"/></linearGradient><linearGradient id="gcloud" x1="0" y1="0" x2="0" y2="1"><stop offset="0" stop-color="#ffffff"/><stop offset="1" stop-color="#b4c0d8"/></linearGradient><linearGradient id="gred" x1="0" y1="0" x2="0" y2="1"><stop offset="0" stop-color="#e8553a"/><stop offset="1" stop-color="#dc1c00"/></linearGradient></defs>
<rect x="5" y="0" width="1" height="20" fill="#a0a0a0"/>
<path d="M15.5 2.5h8l3.5 3.5v10h-11.5z" fill="#fff" stroke="#707070"/><path d="M23.5 2.5v3.5h3.5" fill="none" stroke="#707070"/><rect x="17" y="4" width="3" height="2" fill="#9a9a9a"/><rect x="17" y="8" width="6" height="1" fill="#8a8a8a"/><rect x="17" y="10" width="5" height="1" fill="#8a8a8a"/><rect x="17" y="12" width="3" height="1" fill="#8a8a8a"/>
<path d="M23.5 8.5h3v4h4v3h-4v4h-3v-4h-4v-3h4z" fill="url(#gplus)" stroke="#0c860c" stroke-width="1"/>
<text x="34" y="13.5" font-size="12" fill="#000" stroke="#000" stroke-width="0.2" textLength="36" lengthAdjust="spacingAndGlyphs" style="font-family:'Liberation Sans','Noto Sans CJK SC',sans-serif">新订单</text>
<path d="M87.1 3.100L98 11.4 89.7 17.9 81.9 12.2 85.8 7.300z" fill="#b8801c" stroke="#a8701a" stroke-width="0.8" stroke-linejoin="round"/><path d="M87.6 4.200L96.5 10.6 90.4 15.5 83.4 11.7 86.7 7.500z" fill="url(#ggold)"/><path d="M83 13.100l6.6 3.7" stroke="#f4d682" stroke-width="1.1"/><path d="M90.9 16.500l6.200-4.800" stroke="#ecdca6" stroke-width="0.9"/>
<path d="M112 3.300l2.600-1.200h8.400v9.500h-11z" fill="#1a9ff0"/><path d="M112 3.300l2.600-1.200h8.400l-2.800 2.300h-4.400z" fill="#62c2ff"/><path d="M112 3.300l3.900 1.500v6.800h-3.900z" fill="#0a8cea"/><path d="M112.3 3.500l3.600 1.400v6" stroke="#d8f0ff" stroke-width="0.7" fill="none"/><rect x="117.2" y="6.8" width="4.6" height="1" fill="#eaf7ff"/><path d="M112 17.600C109.4 17.6 109.3 13.6 112 13.200C112.3 11.7 114.2 11.5 115 12.300C115.8 9.5 120 9.1 121.2 12C122.4 10.5 125.700 11 125.800 14C126.4 16 125.5 17.6 124 17.600Z" fill="url(#gcloud)" stroke="#3c5a96" stroke-width="1"/>
<path d="M146 9.800L148.2 2.600A7.5 7.5 0 0 1 146 17.300z" fill="#6cb46c" fill-opacity="0.420"/><g fill="none" stroke-width="1.2"><path d="M146 2.300A7.5 7.5 0 0 0 146 17.3" stroke="#4a78e0" stroke-opacity="0.7"/><path d="M146 2.300A7.5 7.5 0 0 1 146 17.3" stroke="#3a7878" stroke-opacity="0.7"/><path d="M146 4.900A4.9 4.9 0 0 0 146 14.7" stroke="#4a78e0" stroke-opacity="0.6"/><path d="M146 4.900A4.9 4.9 0 0 1 146 14.7" stroke="#4a8a80" stroke-opacity="0.6"/></g><circle cx="145.8" cy="9.6" r="2.1" fill="#2458d0"/><rect x="146" y="10" width="1.2" height="7.8" fill="#18a018"/>
<path d="M165.8 9L181 8.5 173 17.5z" fill="#ffe460" stroke="#d8a010" stroke-width="0.8"/><ellipse cx="173.2" cy="7.3" rx="7.8" ry="2.6" fill="#4aa4dc" stroke="#1878a8" stroke-width="0.8"/><path d="M169.3 6.800c0-3 1.600-4.600 3.900-4.600s3.900 1.600 3.900 4.600c-1.800 1.200-6 1.200-7.800 0z" fill="#6cbcec" stroke="#1878a8" stroke-width="0.7"/><circle cx="177.6" cy="13.5" r="3.9" fill="url(#gred)" stroke="#b81800" stroke-width="0.6"/><rect x="176.2" y="12.1" width="2.8" height="2.8" fill="#fff"/>
<text x="186.5" y="13.500" font-size="12" fill="#000" stroke="#000" stroke-width="0.2" textLength="48" lengthAdjust="spacingAndGlyphs" style="font-family:'Liberation Sans','Noto Sans CJK SC',sans-serif">自动交易</text>
<rect x="241" y="0" width="1" height="22" fill="#a0a0a0"/>
<rect x="242" y="0" width="1" height="22" fill="#ffffff"/>
<rect x="245" y="0" width="3" height="1" fill="#9a9a9a"/>
<rect x="245" y="2" width="3" height="1" fill="#9a9a9a"/>
<rect x="245" y="4" width="3" height="1" fill="#9a9a9a"/>
<rect x="245" y="6" width="3" height="1" fill="#9a9a9a"/>
<rect x="245" y="8" width="3" height="1" fill="#9a9a9a"/>
<rect x="245" y="10" width="3" height="1" fill="#9a9a9a"/>
<rect x="245" y="12" width="3" height="1" fill="#9a9a9a"/>
<rect x="245" y="14" width="3" height="1" fill="#9a9a9a"/>
<rect x="245" y="16" width="3" height="1" fill="#9a9a9a"/>
<rect x="245" y="18" width="3" height="1" fill="#9a9a9a"/>
<g fill="#505050"><rect x="259" y="5" width="1" height="13"/><rect x="257" y="15" width="13" height="1"/><polygon points="257.5,6.5 259.5,4 261.5,6.5"/><polygon points="269,13.5 271.5,15.5 269,17.5"/></g>
<g fill="#109010"><rect x="266" y="6" width="1.3" height="7.5"/><rect x="266" y="6" width="3" height="1.2"/><rect x="263.5" y="12.2" width="3" height="1.2"/></g>
<rect x="279" y="0" width="1" height="20" fill="#a0a0a0"/>
<rect x="280" y="0" width="24" height="21" fill="url(#chk)"/>
<g fill="#505050"><rect x="287" y="5" width="1" height="13"/><rect x="285" y="15" width="13" height="1"/><polygon points="285.5,6.5 287.5,4 289.5,6.5"/><polygon points="297,13.5 299.5,15.5 297,17.5"/></g>
<rect x="293" y="2" width="1.2" height="12" fill="#109010"/><rect x="291.5" y="4.5" width="4" height="7.5" fill="#30e040" stroke="#109010" stroke-width="1"/>
<g fill="#505050"><rect x="315" y="5" width="1" height="13"/><rect x="313" y="15" width="13" height="1"/><polygon points="313.5,6.5 315.5,4 317.5,6.5"/><polygon points="325,13.5 327.5,15.5 325,17.5"/></g>
<path d="M314 13c2.500-2 4-5.500 6-5.500s3.500 3.500 6 4.500" fill="none" stroke="#208a20" stroke-width="1.2"/>
<rect x="336" y="0" width="1" height="20" fill="#a0a0a0"/>
<line x1="354.5" y1="11.5" x2="360" y2="16.5" stroke="#c89a20" stroke-width="2.6" stroke-linecap="round"/><line x1="355" y1="12" x2="359.5" y2="16" stroke="#f4dc60" stroke-width="1"/><circle cx="351" cy="8" r="5.3" fill="#d8ecfa" stroke="#3a80d0" stroke-width="1.4"/><rect x="348" y="7.2" width="6" height="1.8" fill="#3a78c0"/>
<rect x="350.1" y="5" width="1.8" height="6" fill="#3a78c0"/>
<line x1="382.5" y1="11.5" x2="388" y2="16.5" stroke="#c89a20" stroke-width="2.6" stroke-linecap="round"/><line x1="383" y1="12" x2="387.5" y2="16" stroke="#f4dc60" stroke-width="1"/><circle cx="379" cy="8" r="5.3" fill="#d8ecfa" stroke="#3a80d0" stroke-width="1.4"/><rect x="376" y="7.2" width="6" height="1.8" fill="#3a78c0"/>
<rect x="401" y="2" width="8" height="8" fill="#40a020"/><rect x="402" y="5" width="6" height="4" fill="#e8f4e0"/><rect x="403" y="6.5" width="4" height="1" fill="#40a020" fill-opacity="0.5"/><rect x="402" y="3" width="1" height="1" fill="#fff" fill-opacity="0.8"/>
<rect x="409" y="2" width="8" height="8" fill="#2860d8"/><rect x="410" y="5" width="6" height="4" fill="#e4ecfa"/><rect x="411" y="6.5" width="4" height="1" fill="#2860d8" fill-opacity="0.5"/><rect x="410" y="3" width="1" height="1" fill="#fff" fill-opacity="0.8"/>
<rect x="401" y="10" width="8" height="8" fill="#2860d8"/><rect x="402" y="13" width="6" height="4" fill="#e4ecfa"/><rect x="403" y="14.5" width="4" height="1" fill="#2860d8" fill-opacity="0.5"/><rect x="402" y="11" width="1" height="1" fill="#fff" fill-opacity="0.8"/>
<rect x="409" y="10" width="8" height="8" fill="#40a020"/><rect x="410" y="13" width="6" height="4" fill="#e8f4e0"/><rect x="411" y="14.5" width="4" height="1" fill="#40a020" fill-opacity="0.5"/><rect x="410" y="11" width="1" height="1" fill="#fff" fill-opacity="0.8"/>
<rect x="426" y="0" width="1" height="20" fill="#a0a0a0"/>
<rect x="431" y="0" width="1" height="20" fill="#a0a0a0"/>
<rect x="432" y="0" width="24" height="21" fill="url(#chk)"/>
<g fill="#505050"><rect x="439" y="5" width="1" height="13"/><rect x="437" y="15" width="13" height="1"/><polygon points="437.5,6.5 439.5,4 441.5,6.5"/><polygon points="449,13.5 451.5,15.5 449,17.5"/></g>
<polygon points="444.5,6.3 448,9.5 444.5,12.7" fill="#50d860" stroke="#109010" stroke-width="0.8"/>
<rect x="459" y="0" width="1" height="20" fill="#a0a0a0"/>
<rect x="460" y="0" width="24" height="21" fill="url(#chk)"/>
<g fill="#505050"><rect x="467" y="5" width="1" height="13"/><rect x="465" y="15" width="13" height="1"/><polygon points="465.5,6.5 467.5,4 469.5,6.5"/><polygon points="477,13.5 479.5,15.5 477,17.5"/></g>
<rect x="473" y="4" width="1.3" height="10" fill="#2070a0"/><path d="M474.5 9.500l3-2.500v1.800h2v1.400h-2v1.800z" fill="#d04010"/>
<rect x="488" y="0" width="1" height="20" fill="#a0a0a0"/>
<path d="M498.5 2.500h7l3.500 3.500v9h-10.500z" fill="#fff" stroke="#808080"/><path d="M505.5 2.500v3.500h3.500" fill="none" stroke="#808080"/><path d="M503 5c-1.500 0-1.500 1-1.500 3s-1 1.500-1 2.500 1 0.500 1 2.500 0 2 1.500 2" fill="none" stroke="#606050" stroke-width="0.9"/>
<path d="M506.5 7.5h3v4h4v3h-4v4h-3v-4h-4v-3h4z" fill="url(#gplus)" stroke="#0c860c" stroke-width="1"/>
<polygon points="520,9 526,9 523,12.5" fill="#000"/>
<circle cx="544" cy="10" r="7.3" fill="#f4f8fc" stroke="#1f6fd0" stroke-width="2.2"/><circle cx="544" cy="10" r="8.3" fill="none" stroke="#2a5aa8" stroke-width="0.5"/><path d="M544 5.500v4.800h3.200" fill="none" stroke="#303030" stroke-width="1.2"/>
<polygon points="559,9 565,9 562,12.5" fill="#000"/>
<rect x="575.5" y="3.5" width="15" height="13" fill="#fff" stroke="#3a6cc8" stroke-width="1"/><rect x="575" y="3" width="16" height="2.5" fill="#4a80d8"/><rect x="576" y="10.5" width="14" height="1" fill="#4a80d8"/><path d="M577.5 9l2-0.500 2-1.500 2 0.800 2-1 2.500-0.300" fill="none" stroke="#b02010" stroke-width="1.3"/><path d="M577.5 14.500l2-0.500 2-1 2 1 2-2 2 2" fill="none" stroke="#209030" stroke-width="1.2"/>
<polygon points="598,9 604,9 601,12.5" fill="#000"/>
<rect x="609" y="0" width="1" height="22" fill="#a0a0a0"/>
<rect x="610" y="0" width="1" height="22" fill="#ffffff"/>
<rect x="613" y="0" width="3" height="1" fill="#9a9a9a"/>
<rect x="613" y="2" width="3" height="1" fill="#9a9a9a"/>
<rect x="613" y="4" width="3" height="1" fill="#9a9a9a"/>
<rect x="613" y="6" width="3" height="1" fill="#9a9a9a"/>
<rect x="613" y="8" width="3" height="1" fill="#9a9a9a"/>
<rect x="613" y="10" width="3" height="1" fill="#9a9a9a"/>
<rect x="613" y="12" width="3" height="1" fill="#9a9a9a"/>
<rect x="613" y="14" width="3" height="1" fill="#9a9a9a"/>
<rect x="613" y="16" width="3" height="1" fill="#9a9a9a"/>
<rect x="613" y="18" width="3" height="1" fill="#9a9a9a"/>
<rect x="619" y="0" width="1" height="20" fill="#a0a0a0"/>
<rect x="620" y="0" width="24" height="21" fill="url(#chk)"/>
<path d="M627.2 3v12.500l3-2.800 2.300 4.500 1.800-0.900-2.300-4.400h3.800z" fill="#505050"/>
<g fill="#505050"><rect x="659" y="3" width="1" height="15"/><rect x="652" y="10" width="15" height="1"/></g><rect x="659" y="10" width="1" height="1" fill="#f0f0f0"/>
<rect x="676" y="0" width="1" height="20" fill="#a0a0a0"/>
<g fill="#505050"><rect x="693" y="4" width="1" height="13"/><rect x="716" y="10" width="12" height="1"/></g>
<line x1="743.8" y1="17" x2="756" y2="4.8" stroke="#505050" stroke-width="1.1"/>
<g stroke="#505050" stroke-width="0.9" fill="none"><path d="M770 12l11-8.500M771.5 16l11-8.500M773 9.500v6M776 7.500v6M779 5v6M782 3v6" /></g>
<text x="780.5" y="18.7" font-size="6.5" font-weight="bold" fill="#303030">E</text>
<path d="M799 3.5h13" stroke="#505050" stroke-width="1" stroke-dasharray="1 1" shape-rendering="crispEdges"/>
<path d="M799 6.5h13" stroke="#505050" stroke-width="1" stroke-dasharray="1 1" shape-rendering="crispEdges"/>
<path d="M799 10.5h13" stroke="#505050" stroke-width="1" stroke-dasharray="1 1" shape-rendering="crispEdges"/>
<path d="M799 14.5h9" stroke="#505050" stroke-width="1" stroke-dasharray="1 1" shape-rendering="crispEdges"/>
<text x="808.8" y="18.7" font-size="6.5" font-weight="bold" fill="#303030">F</text>
<text x="829.8" y="14.9" font-size="12.5" fill="#505050" stroke="#505050" stroke-width="0.3" textLength="8" lengthAdjust="spacingAndGlyphs">A</text>
<rect x="856.5" y="4.5" width="11" height="12" fill="none" stroke="#505050" stroke-dasharray="1 1" shape-rendering="crispEdges"/><text x="858" y="14.7" font-size="11" fill="#505050" stroke="#505050" stroke-width="0.4" textLength="8" lengthAdjust="spacingAndGlyphs">T</text>
<g fill="#505050"><polygon points="883,8 887,4 891,8 887,9.5"/><polygon points="890,13 898,13 894,17"/></g><path d="M885.5 11l2 2.500 5-5.500" fill="none" stroke="#505050" stroke-width="1.2"/>
<polygon points="904,9 910,9 907,12.5" fill="#000"/>
<rect x="915" y="0" width="1" height="22" fill="#a0a0a0"/>
<rect x="916" y="0" width="1" height="22" fill="#ffffff"/>
<rect x="919" y="0" width="3" height="1" fill="#9a9a9a"/>
<rect x="919" y="2" width="3" height="1" fill="#9a9a9a"/>
<rect x="919" y="4" width="3" height="1" fill="#9a9a9a"/>
<rect x="919" y="6" width="3" height="1" fill="#9a9a9a"/>
<rect x="919" y="8" width="3" height="1" fill="#9a9a9a"/>
<rect x="919" y="10" width="3" height="1" fill="#9a9a9a"/>
<rect x="919" y="12" width="3" height="1" fill="#9a9a9a"/>
<rect x="919" y="14" width="3" height="1" fill="#9a9a9a"/>
<rect x="919" y="16" width="3" height="1" fill="#9a9a9a"/>
<rect x="919" y="18" width="3" height="1" fill="#9a9a9a"/>
<text x="930.5" y="14" font-size="9.5" fill="#404040" textLength="12.899999999999977" lengthAdjust="spacingAndGlyphs">M1</text>
<text x="958.5" y="14" font-size="9.5" fill="#404040" textLength="12.5" lengthAdjust="spacingAndGlyphs">M5</text>
<text x="984.6" y="14" font-size="9.5" fill="#404040" textLength="17.699999999999932" lengthAdjust="spacingAndGlyphs">M15</text>
<text x="1012.3" y="14" font-size="9.5" fill="#404040" textLength="18.200000000000045" lengthAdjust="spacingAndGlyphs">M30</text>
<text x="1043.8" y="14" font-size="9.5" fill="#404040" textLength="11.600000000000136" lengthAdjust="spacingAndGlyphs">H1</text>
<rect x="1065" y="0" width="1" height="20" fill="#a0a0a0"/>
<rect x="1066" y="0" width="24" height="21" fill="url(#chk)"/>
<text x="1070.8" y="14" font-size="9.5" fill="#404040" textLength="12.0" lengthAdjust="spacingAndGlyphs">H4</text>
<text x="1100" y="14" font-size="9.5" fill="#404040" textLength="11.5" lengthAdjust="spacingAndGlyphs">D1</text>
<text x="1127.7" y="14" font-size="9.5" fill="#404040" textLength="13.799999999999955" lengthAdjust="spacingAndGlyphs">W1</text>
<text x="1153.8" y="14" font-size="9.5" fill="#404040" textLength="14.700000000000045" lengthAdjust="spacingAndGlyphs">MN</text>
<rect x="1176" y="0" width="1" height="22" fill="#a0a0a0"/>
<rect x="1177" y="0" width="1" height="22" fill="#ffffff"/>
<circle cx="1646.6" cy="7.4" r="4.1" fill="#f4f6fc" stroke="#2454d0" stroke-width="1.3"/><line x1="1643.5" y1="10.6" x2="1639" y2="15" stroke="#2454d0" stroke-width="2.2" stroke-linecap="round"/>
<path d="M1663.5 11c0-3 3-4.500 6-4.500s6 1.500 6 4.500-3 4.500-6 4.500c-0.800 0-1.500 0-2.200-0.200l-1.300 3-0.500-3.600c-1.200-0.800-2-2-2-3.700z" fill="#eeeef8" stroke="#a8a8a8" stroke-width="0.9"/>
<circle cx="1677.4" cy="7.4" r="8.2" fill="url(#gred)"/><text x="1673" y="11.9" font-size="12.5" font-weight="bold" fill="#fff" font-family="Liberation Serif" style="font-family:'Liberation Serif',serif">1</text>
</svg>
</body></html>
